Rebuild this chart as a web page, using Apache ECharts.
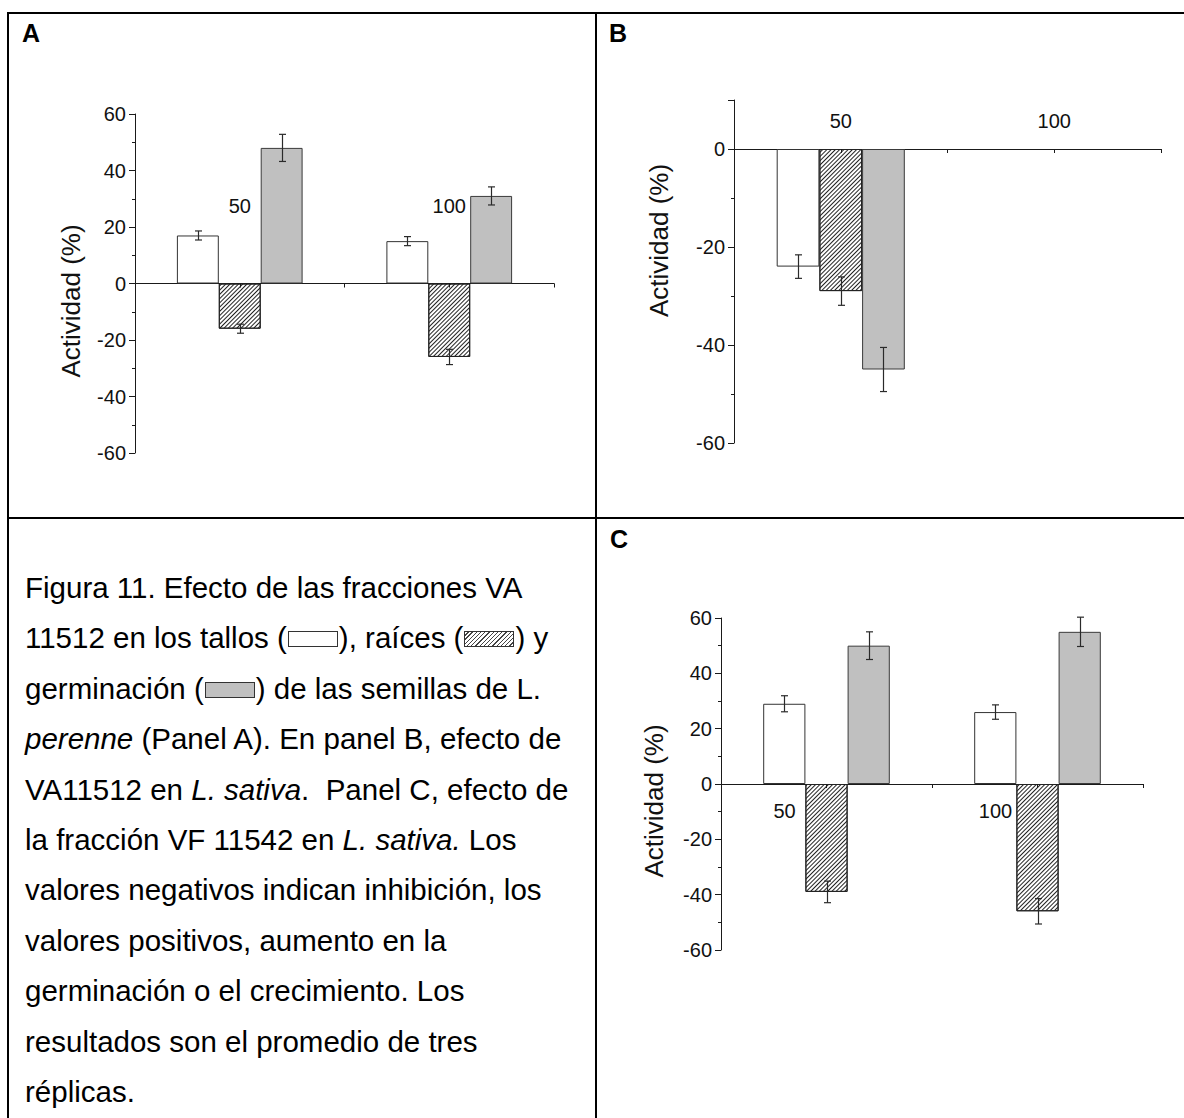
<!DOCTYPE html>
<html>
<head>
<meta charset="utf-8">
<script src="https://cdn.jsdelivr.net/npm/echarts@6/dist/echarts.min.js"></script>
<style>
  html, body { margin: 0; padding: 0; background: #fff; }
  #wrap { position: relative; width: 1184px; height: 1118px; }
  #chart { position: absolute; left: 0; top: 0; width: 1184px; height: 1118px; }
  #caption {
    position: absolute; left: 25px; top: 563px; width: 570px;
    font-family: Arial, "Liberation Sans", sans-serif; font-size: 29.5px;
    line-height: 50.4px; color: #000; white-space: nowrap;
  }
  .sw { display: inline-block; width: 50px; height: 16px; border: 1.5px solid #333; box-sizing: border-box; vertical-align: 1px; margin: 0 1px; }
  .sw.white { background: #fff; }
  .sw.hatch { background: repeating-linear-gradient(-45deg, #fff 0 2px, #444 2px 3px); }
  .sw.gray { background: #c0c0c0; }
</style>
</head>
<body>
<div id="wrap">
  <div id="chart"></div>
  <div id="caption">Figura 11. Efecto de las fracciones VA<br>11512 en los tallos (<span class="sw white"></span>), raíces (<span class="sw hatch"></span>) y<br>germinación (<span class="sw gray"></span>) de las semillas de L.<br><i>perenne</i> (Panel A). En panel B, efecto de<br>VA11512 en <i>L. sativa</i>.&nbsp; Panel C, efecto de<br>la fracción VF 11542 en <i>L. sativa.</i> Los<br>valores negativos indican inhibición, los<br>valores positivos, aumento en la<br>germinación o el crecimiento. Los<br>resultados son el promedio de tres<br>réplicas.</div>
</div>
<script>
// ---------------- data ----------------
const categories = ['50', '100'];

// Panel A (VA 11512, L. perenne)
const A_tallos = [17, 15];
const A_tallosErr = [1.6, 1.6];
const A_raices = [-16, -26];
const A_raicesErr = [1.6, 2.7];
const A_germ = [48, 31];
const A_germErr = [4.8, 3.2];
const A_yTicks = [-60, -40, -20, 0, 20, 40, 60];

// Panel B (VA11512, L. sativa)
const B_tallos = [-24, null];
const B_tallosErr = [2.4, null];
const B_raices = [-29, null];
const B_raicesErr = [2.9, null];
const B_germ = [-45, null];
const B_germErr = [4.5, null];
const B_yTicks = [-60, -40, -20, 0];
const B_yMax = 10;

// Panel C (VF 11542, L. sativa)
const C_tallos = [29, 26];
const C_tallosErr = [2.9, 2.6];
const C_raices = [-39, -46];
const C_raicesErr = [3.9, 4.6];
const C_germ = [50, 55];
const C_germErr = [5.0, 5.3];
const C_yTicks = [-60, -40, -20, 0, 20, 40, 60];

const seriesNames = ['tallos', 'raíces', 'germinación'];

// ---------------- styling ----------------
const FONT = 'Arial, "Liberation Sans", sans-serif';
const AX = '#1a1a1a';
const TICK_FS = 20;

const chart = echarts.init(document.getElementById('chart'), null, { renderer: 'svg', width: 1184, height: 1118 });

const grids = [
  { left: 135, top: 114, width: 419, height: 339 },   // A
  { left: 734, top: 100, width: 427, height: 343 },   // B
  { left: 721, top: 618, width: 422, height: 332 }    // C
];

function yAxisFor(gi, ticks, max, namePad, nameGap) {
  return {
    type: 'value', gridIndex: gi,
    min: ticks[0], max: max, interval: 20,
    name: 'Actividad (%)', nameLocation: 'middle', nameGap: nameGap,
    nameTextStyle: { fontFamily: FONT, fontSize: 26, color: '#111', padding: namePad },
    axisLine: { show: true, onZero: false, lineStyle: { color: AX, width: 1 } },
    axisTick: { show: true, length: 6, lineStyle: { color: AX, width: 1 } },
    minorTick: { show: true, splitNumber: 2, length: 3, lineStyle: { color: AX, width: 1 } },
    splitLine: { show: false },
    axisLabel: {
      fontFamily: FONT, fontSize: TICK_FS, color: '#111', margin: 9,
      formatter: v => (ticks.indexOf(v) >= 0 ? String(v) : '')
    }
  };
}

// second x axis sits on the zero line through offset (labels + centre ticks)
function xAxesFor(gi, min, max, labelOpt) {
  const off = -((0 - min) / (max - min)) * grids[gi].height;
  return [
    {
      type: 'category', gridIndex: gi, data: categories, position: 'bottom',
      axisLine: { show: true, onZero: true, lineStyle: { color: AX, width: 1 } },
      axisTick: { show: true, length: 4, lineStyle: { color: AX, width: 1 } },
      axisLabel: { show: false }
    },
    {
      type: 'category', gridIndex: gi, data: categories, position: 'bottom', z: 6,
      offset: off,
      axisLine: { show: false, onZero: false },
      axisTick: { show: true, alignWithLabel: true, length: 4, lineStyle: { color: AX, width: 1 } },
      axisLabel: Object.assign({ fontFamily: FONT, fontSize: TICK_FS, color: '#111' }, labelOpt)
    }
  ];
}

const hatchDecal = {
  symbol: 'rect', symbolSize: 1,
  dashArrayX: [1, 0], dashArrayY: [1, 2],
  rotation: -Math.PI / 4, color: '#222'
};

function barSeries(xi, yi, tallos, raices, germ) {
  const base = { type: 'bar', xAxisIndex: xi, yAxisIndex: yi, barGap: '0%', barCategoryGap: '40%', z: 3 };
  return [
    Object.assign({}, base, { name: seriesNames[0], data: tallos,
      itemStyle: { color: '#ffffff', borderColor: '#333', borderWidth: 1 } }),
    Object.assign({}, base, { name: seriesNames[1], data: raices,
      itemStyle: { color: '#ffffff', borderColor: '#222', borderWidth: 1, decal: hatchDecal } }),
    Object.assign({}, base, { name: seriesNames[2], data: germ,
      itemStyle: { color: '#c0c0c0', borderColor: '#3a3a3a', borderWidth: 1 } })
  ];
}

function errSeries(xi, yi, vals, errs) {
  const data = [];
  vals.forEach((arr, k) => arr.forEach((v, i) => {
    if (v !== null && errs[k][i] !== null) data.push([i, v, errs[k][i], k]);
  }));
  return {
    type: 'custom', xAxisIndex: xi, yAxisIndex: yi, z: 7, data: data,
    encode: { x: 0, y: 1 }, silent: true,
    renderItem: function (params, api) {
      const i = api.value(0), v = api.value(1), e = api.value(2), k = api.value(3);
      const catW = api.size([1, 0])[0];
      const bw = catW * 0.2;
      const x = Math.round(api.coord([i, v])[0] + (k - 1) * bw) + 0.5;
      const y1 = api.coord([i, v + e])[1];
      const y2 = api.coord([i, v - e])[1];
      const c = 3.5;
      const st = { stroke: '#2a2a2a', lineWidth: 1.2 };
      return {
        type: 'group', children: [
          { type: 'line', shape: { x1: x, y1: y1, x2: x, y2: y2 }, style: st },
          { type: 'line', shape: { x1: x - c, y1: y1, x2: x + c, y2: y1 }, style: st },
          { type: 'line', shape: { x1: x - c, y1: y2, x2: x + c, y2: y2 }, style: st }
        ]
      };
    }
  };
}

const xAxes = [].concat(
  xAxesFor(0, A_yTicks[0], A_yTicks[A_yTicks.length - 1], { margin: -88 }),
  xAxesFor(1, B_yTicks[0], B_yMax, { margin: -38 }),
  xAxesFor(2, C_yTicks[0], C_yTicks[C_yTicks.length - 1], { margin: 17, padding: [0, 84, 0, 0] })
);

const yAxes = [
  yAxisFor(0, A_yTicks, A_yTicks[A_yTicks.length - 1], [0, 35, 0, 0], 51),
  yAxisFor(1, B_yTicks, B_yMax, [0, 0, 0, 62], 62),
  yAxisFor(2, C_yTicks, C_yTicks[C_yTicks.length - 1], [0, 34, 0, 0], 54)
];

const series = [].concat(
  barSeries(0, 0, A_tallos, A_raices, A_germ),
  [errSeries(0, 0, [A_tallos, A_raices, A_germ], [A_tallosErr, A_raicesErr, A_germErr])],
  barSeries(2, 1, B_tallos, B_raices, B_germ),
  [errSeries(2, 1, [B_tallos, B_raices, B_germ], [B_tallosErr, B_raicesErr, B_germErr])],
  barSeries(4, 2, C_tallos, C_raices, C_germ),
  [errSeries(4, 2, [C_tallos, C_raices, C_germ], [C_tallosErr, C_raicesErr, C_germErr])]
);

function letter(t, l, tp) {
  return { text: t, left: l, top: tp, padding: 0,
    textStyle: { fontFamily: FONT, fontSize: 25, fontWeight: 'bold', color: '#000' } };
}

const L = { stroke: '#000', lineWidth: 2 };
chart.setOption({
  animation: false,
  backgroundColor: '#ffffff',
  title: [letter('A', 22, 20), letter('B', 609, 20), letter('C', 610, 526)],
  grid: grids,
  xAxis: xAxes,
  yAxis: yAxes,
  series: series,
  graphic: [
    { type: 'line', shape: { x1: 7, y1: 13, x2: 1184, y2: 13 }, style: L, z: 100 },
    { type: 'line', shape: { x1: 8, y1: 12, x2: 8, y2: 1118 }, style: L, z: 100 },
    { type: 'line', shape: { x1: 596, y1: 12, x2: 596, y2: 1118 }, style: L, z: 100 },
    { type: 'line', shape: { x1: 7, y1: 518, x2: 1184, y2: 518 }, style: L, z: 100 }
  ]
});
</script>
</body>
</html>
